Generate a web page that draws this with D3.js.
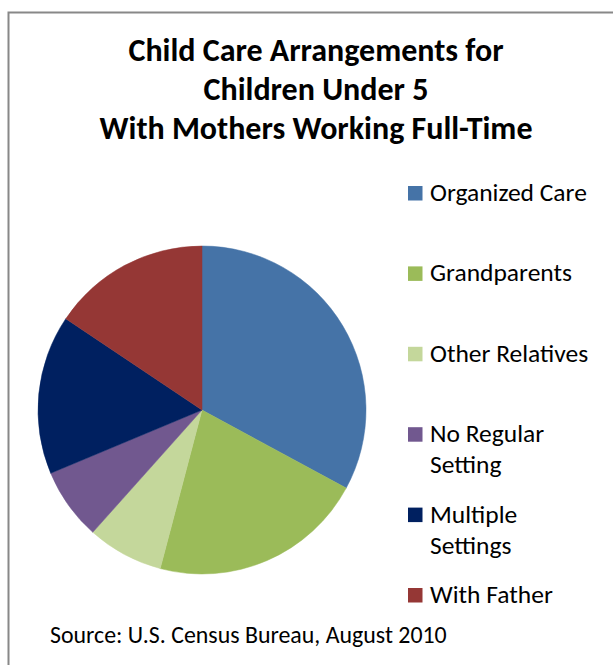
<!DOCTYPE html>
<html>
<head>
<meta charset="utf-8">
<script src="https://cdn.jsdelivr.net/npm/d3@7"></script>
<style>
  body { margin: 0; background: #fff; }
  svg { display: block; }
</style>
</head>
<body>
<div id="chart"></div>
<script>
// data (percent of children)
var categories = ["Organized Care", "Grandparents", "Other Relatives", "No Regular Setting", "Multiple Settings", "With Father"];
var legend_lines = [["Organized Care"], ["Grandparents"], ["Other Relatives"], ["No Regular", "Setting"], ["Multiple", "Settings"], ["With Father"]];
var shares = [32.9, 21.2, 7.5, 7.1, 15.7, 15.6];
var colors = ["#4573a7", "#9bbb59", "#c4d79b", "#71588f", "#002060", "#953735"];
var title_lines = ["Child Care Arrangements for", "Children Under 5", "With Mothers Working Full-Time"];
var source_text = "Source: U.S. Census Bureau, August 2010";

function draw_pie_chart() {
    var width = 613;
    var height = 665;
    var font = "Carlito, Calibri, Lato, sans-serif";

    var svg = d3.select("#chart")
        .append("svg")
        .attr("width", width)
        .attr("height", height);

    // chart frame, right and bottom edges fall outside the window
    svg.append("rect")
        .attr("x", 8.5)
        .attr("y", 12.5)
        .attr("width", width + 20)
        .attr("height", height + 20)
        .attr("fill", "#fff")
        .attr("stroke", "#888")
        .attr("stroke-width", 2);

    // fit a text element to a given width by scaling its font size
    function fit(sel, target) {
        sel.each(function() {
            var w = this.getComputedTextLength();
            var fs = parseFloat(d3.select(this).attr("font-size"));
            d3.select(this).attr("font-size", (fs * target / w).toFixed(2));
        });
    }

    var title = svg.append("g").attr("class", "title");
    var title_widths = [375, 225, 433];
    title.selectAll("text").data(title_lines).enter()
        .append("text")
        .attr("x", 316)
        .attr("y", function(d, i) { return 61 + i * 39; })
        .attr("text-anchor", "middle")
        .attr("font-family", font)
        .attr("font-weight", "bold")
        .attr("font-size", 28)
        .attr("fill", "#000")
        .text(function(d) { return d; })
        .each(function(d, i) { fit(d3.select(this), title_widths[i]); });

    var color = d3.scaleOrdinal().domain(categories).range(colors);

    var pie = d3.pie()
        .sort(null)
        .value(function(d, i) { return shares[i]; });

    var radius = 164;
    var arc = d3.arc().innerRadius(0).outerRadius(radius);

    var g = svg.append("g")
        .attr("transform", "translate(202,410)");

    g.selectAll("path").data(pie(categories)).enter()
        .append("path")
        .attr("d", arc)
        .attr("fill", function(d) { return color(d.data); })
        .attr("stroke", function(d) { return color(d.data); })
        .attr("stroke-width", 0.5);

    // legend
    var y = d3.scalePoint().domain(categories).range([186, 588]);

    var legend = svg.append("g").attr("class", "legend")
        .selectAll("g").data(categories).enter()
        .append("g")
        .attr("transform", function(d) { return "translate(408," + y(d) + ")"; });

    legend.append("rect")
        .attr("width", 14.5)
        .attr("height", 14.5)
        .attr("fill", function(d) { return color(d); });

    var legend_text = legend.append("text")
        .attr("x", 22)
        .attr("y", 15)
        .attr("font-family", font)
        .attr("font-size", 25.5)
        .attr("fill", "#000");

    legend_text.selectAll("tspan")
        .data(function(d, i) { return legend_lines[i]; }).enter()
        .append("tspan")
        .attr("x", 22)
        .attr("dy", function(d, i) { return i == 0 ? 0 : 31; })
        .text(function(d) { return d; });

    svg.append("text")
        .attr("x", 50)
        .attr("y", 643)
        .attr("font-family", font)
        .attr("font-size", 20)
        .attr("fill", "#000")
        .text(source_text)
        .call(fit, 397);
}

draw_pie_chart();
</script>
</body>
</html>
